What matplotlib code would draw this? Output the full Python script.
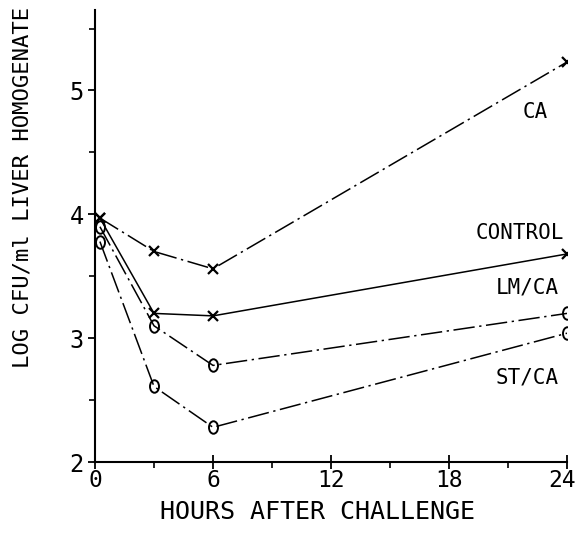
import matplotlib
matplotlib.use("Agg")
import matplotlib.pyplot as plt
from matplotlib.path import Path
from matplotlib.transforms import Affine2D, ScaledTranslation

# hours after challenge
hours = [0.25, 3, 6, 24]

# log CFU/ml liver homogenate
ca = [3.97, 3.70, 3.56, 5.23]
control = [3.97, 3.20, 3.18, 3.68]
lm_ca = [3.90, 3.10, 2.78, 3.20]
st_ca = [3.78, 2.61, 2.28, 3.04]

x_ticks = [0, 6, 12, 18, 24]
y_ticks = [2, 3, 4, 5]

FONT = "DejaVu Sans Mono"
plt.rcParams['font.family'] = FONT

# tall narrow "0"-like marker
oval = Path.unit_circle().transformed(Affine2D().scale(0.72, 1.0))

fig = plt.figure(figsize=(5.78, 5.33), dpi=100)
ax = fig.add_axes([95 / 578, 1 - 462 / 533, 472 / 578, 452 / 533])

dashdot = (0, (14, 3, 1.5, 3))
ax.plot(hours, ca, color='black', lw=1.1, ls=dashdot,
        marker='x', ms=7, mew=1.6)
ax.plot(hours, control, color='black', lw=1.1, ls='-',
        marker='x', ms=7, mew=1.6)
ax.plot(hours, lm_ca, color='black', lw=1.1, ls=dashdot,
        marker=oval, ms=9, mew=1.4, mfc='none')
ax.plot(hours, st_ca, color='black', lw=1.1, ls=dashdot,
        marker=oval, ms=9, mew=1.4, mfc='none')

ax.text(22.4, 4.83, "CA", fontsize=15, ha='center', va='center')
ax.text(21.6, 3.85, "CONTROL", fontsize=15, ha='center', va='center')
ax.text(21.96, 3.41, "LM/CA", fontsize=15, ha='center', va='center')
ax.text(21.96, 2.68, "ST/CA", fontsize=15, ha='center', va='center')

ax.set_xlim(0, 24)
ax.set_ylim(2, 5.65)
ax.set_xticks(x_ticks)
ax.set_xticks([3, 9, 15, 21], minor=True)
ax.set_yticks(y_ticks)
ax.set_yticks([2.5, 3.5, 4.5, 5.5], minor=True)
ax.set_xticklabels([str(v) for v in x_ticks])
ax.set_yticklabels([str(v) for v in y_ticks])

for side in ['top', 'right']:
    ax.spines[side].set_visible(False)
for side in ['left', 'bottom']:
    ax.spines[side].set_linewidth(1.5)

ax.tick_params(axis='x', which='major', direction='inout', length=10, width=1.3,
               labelsize=16.5, pad=0)
ax.tick_params(axis='x', which='minor', direction='out', length=4, width=1.2)
ax.tick_params(axis='y', which='major', direction='out', length=5, width=1.3,
               labelsize=17, pad=3)
ax.tick_params(axis='y', which='minor', direction='out', length=4, width=1.2)

# keep the last x tick label inside the figure
last = ax.get_xticklabels()[-1]
last.set_transform(last.get_transform() + ScaledTranslation(-5 / 100, 0, fig.dpi_scale_trans))

ax.set_xlabel("HOURS AFTER CHALLENGE", fontsize=18)
ax.xaxis.set_label_coords((317 - 95) / 472, -0.085)
fig.text(23 / 578, 1 - 187 / 533, "LOG CFU/ml LIVER HOMOGENATE", fontsize=16,
         rotation=90, ha='center', va='center')

fig.savefig("out.png", dpi=100)
